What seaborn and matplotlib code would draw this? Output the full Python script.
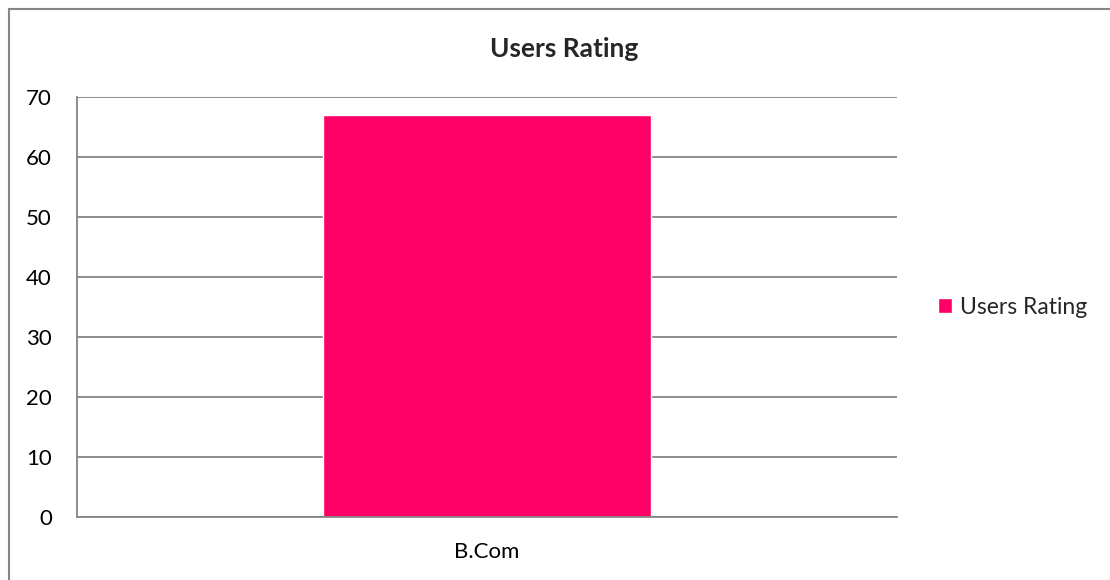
import pandas as pd
import matplotlib.pyplot as plt
import seaborn as sns
from matplotlib.lines import Line2D

# Data
categories = ["B.Com"]
ratings = [67]
series_name = "Users Rating"

df = pd.DataFrame({"Course": categories, series_name: ratings})

sns.set_style("white")
plt.rcParams['font.family'] = ['Lato', 'DejaVu Sans']

fig = plt.figure(figsize=(11.1, 5.8), dpi=100)
ax = fig.add_axes([77 / 1110, 1 - 517 / 580, 820 / 1110, 420 / 580])

sns.barplot(data=df, x="Course", y=series_name, color="#FF0066",
            width=0.4, saturation=1, ax=ax, label=series_name)

ax.set_xlim(-0.5, 0.5)
ax.set_ylim(0, 70)
ax.set_yticks(range(0, 71, 10))
ax.grid(axis="y", color="#868686", linewidth=1.3)
ax.set_axisbelow(True)
for side in ["top", "right"]:
    ax.spines[side].set_visible(False)
for side in ["left", "bottom"]:
    ax.spines[side].set_color("#868686")
    ax.spines[side].set_linewidth(1.3)
ax.tick_params(axis="both", length=0, labelsize=16, colors="black")
ax.tick_params(axis="y", pad=18)
ax.tick_params(axis="x", pad=18)
ax.set_xlabel("")
ax.set_ylabel("")

fig.text(564 / 1110, 1 - 49 / 580, "Users Rating", ha="center", va="center",
         fontsize=19, fontweight="bold")

ax.legend(loc="center left", bbox_to_anchor=(1.05, 0.5), frameon=False,
          fontsize=16.5, handlelength=0.6, handleheight=0.6, handletextpad=0.35,
          borderpad=0, borderaxespad=0)

# chart border (left and top visible)
fig.add_artist(Line2D([8.5 / 1110, 8.5 / 1110], [0, 1 - 8.5 / 580],
                      transform=fig.transFigure, color="#868686", linewidth=1.5))
fig.add_artist(Line2D([8.5 / 1110, 1], [1 - 8.5 / 580, 1 - 8.5 / 580],
                      transform=fig.transFigure, color="#868686", linewidth=1.5))

plt.savefig("out.png", dpi=100)
plt.close()
